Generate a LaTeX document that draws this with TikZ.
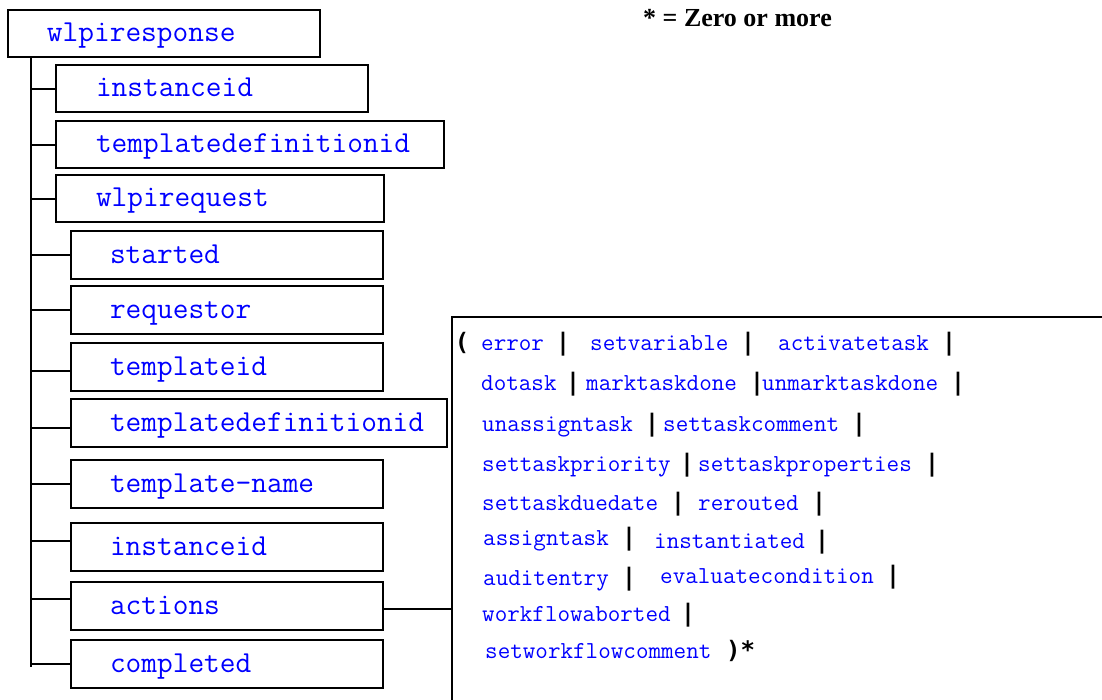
\documentclass[tikz,border=0pt]{standalone}
\usepackage{fontspec}
\newfontfamily\notefont{Liberation Serif}
\newfontfamily\barfont{DejaVu Sans Mono}
\begin{document}
\begin{tikzpicture}[x=1pt,y=-1pt,
  line/.style={line width=2pt},
  box/.style={draw, line width=2pt, inner sep=0pt, anchor=north west,
    minimum height=47pt, text width=#1, align=left,
    text height=20pt, text depth=4pt, text=blue,
    font=\ttfamily\fontsize{30.5}{30.5}\selectfont},
  word/.style={anchor=base west, inner sep=0pt, text=blue,
    font=\ttfamily\fontsize{24.4}{24.4}\selectfont},
  bar/.style={anchor=base, inner sep=0pt, text=black,
    font=\barfont\bfseries\fontsize{24}{24}\selectfont},
  note/.style={anchor=base west, inner sep=0pt,
    font=\notefont\bfseries\fontsize{26}{26}\selectfont}]
\clip (0,0) rectangle (1102,699);
% legend
\node[note] (legend) at (643,26) {* = Zero or more};
% tree boxes
\node[box=312pt] (root) at (7,9) {\hspace*{39pt}wlpiresponse};
\node[box=312pt] (a1) at (55,64) {\hspace*{40pt}instanceid};
\node[box=388pt] (a2) at (55,120) {\hspace*{40pt}templatedefinitionid};
\node[box=328pt] (a3) at (55,174) {\hspace*{40pt}wlpirequest};
\node[box=312pt, minimum height=48pt] (b1) at (70,230) {\hspace*{39pt}started};
\node[box=312pt, minimum height=48pt] (b2) at (70,285) {\hspace*{39pt}requestor};
\node[box=312pt, minimum height=48pt] (b3) at (70,342) {\hspace*{39pt}templateid};
\node[box=376pt, minimum height=48pt] (b4) at (70,398) {\hspace*{39pt}templatedefinitionid};
\node[box=312pt, minimum height=48pt] (b5) at (70,459) {\hspace*{39pt}template-name};
\node[box=312pt, minimum height=48pt] (b6) at (70,522) {\hspace*{39pt}instanceid};
\node[box=312pt, minimum height=48pt] (b7) at (70,581) {\hspace*{39pt}actions};
\node[box=312pt, minimum height=48pt] (b8) at (70,639) {\hspace*{39pt}completed};
% choice box
\node[draw, line width=2pt, anchor=north west, inner sep=0pt,
  minimum width=800pt, minimum height=500pt] (choice) at (451,316) {};
% trunk
\coordinate (tr) at (31,0);
\coordinate (trend) at (31,667);
\draw[line] (tr |- root.south) -- (trend);
\foreach \n/\s in {a1/0,a2/0,a3/0,b1/0,b2/0,b3/-4,b4/-5,b5/0,b6/6,b7/7,b8/0}{
  \coordinate (p\n) at ([yshift=\s pt]\n.west);
  \draw[line] (tr |- p\n) -- (p\n);
}
% actions to choice
\coordinate (ae) at ([yshift=-3pt]b7.east);
\draw[line] (ae) -- (ae -| choice.west);
% choice content
\node[bar] (open) at (462,350.7) {(};
\foreach \x/\y/\t [count=\i] in {
  481/350.7/error, 590/350.7/setvariable, 778/350.7/activatetask,
  481/390.7/dotask, 586/390.7/marktaskdone, 762/390.7/unmarktaskdone,
  482/431.7/unassigntask, 663/431.7/settaskcomment,
  482/471.7/settaskpriority, 698/471.7/settaskproperties,
  482/510/settaskduedate, 698/510/rerouted,
  483/545/assigntask, 654/548/instantiated,
  483/585.7/auditentry, 660/583/evaluatecondition,
  482/621.7/workflowaborted,
  485/658/setworkflowcomment}
  \node[word] (w\i) at (\x,\y) {\t};
\foreach \x/\y [count=\i] in {
  563/350.7, 748/350.7, 949/350.7,
  573/390.7, 757/390.7, 958/390.7,
  652/431.7, 859/431.7,
  687/471.7, 932/471.7,
  678/510, 819/510,
  629/545, 822/548,
  629/585.7, 893/583,
  688/621.7}
  \node[bar] (bar\i) at (\x,\y) {|};
\node[bar, anchor=base west] (close) at (726,658) {)*};
\end{tikzpicture}
\end{document}
